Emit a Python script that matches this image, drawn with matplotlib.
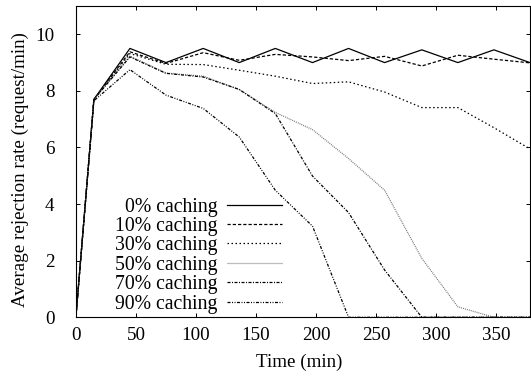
import matplotlib
matplotlib.use("Agg")
import matplotlib.pyplot as plt

plt.rcParams['font.family'] = ['Liberation Serif', 'DejaVu Serif']
plt.rcParams['font.size'] = 13.7

# Data
time_min = [0, 15, 45, 75, 106, 136, 166, 197, 227, 257, 288, 318, 348, 378]
c0 = [0, 7.7, 9.5, 9.0, 9.5, 9.0, 9.5, 9.0, 9.5, 9.0, 9.45, 9.0, 9.45, 9.0]
c10 = [0, 7.7, 9.38, 8.97, 9.35, 9.08, 9.29, 9.2, 9.07, 9.22, 8.88, 9.26, 9.12, 8.99]
c30 = [0, 7.7, 9.32, 8.94, 8.93, 8.73, 8.52, 8.26, 8.32, 7.96, 7.41, 7.41, 6.7, 5.95]
c50 = [0, 7.7, 9.23, 8.63, 8.52, 8.05, 7.24, 6.63, 5.61, 4.49, 2.08, 0.37, 0, 0]
c70 = [0, 7.7, 9.2, 8.62, 8.49, 8.05, 7.2, 4.99, 3.7, 1.67, 0, 0, 0, 0]
c90 = [0, 7.65, 8.75, 7.85, 7.38, 6.37, 4.49, 3.22, 0, 0, 0, 0, 0, 0]
labels = ['0% caching', '10% caching', '30% caching', '50% caching', '70% caching', '90% caching']
x_ticks = [0, 50, 100, 150, 200, 250, 300, 350]
y_ticks = [0, 2, 4, 6, 8, 10]

fig = plt.figure(figsize=(5.31, 3.81), dpi=100)
ax = fig.add_axes([0.1429, 0.1672, 0.998 - 0.1429, 0.9843 - 0.1672])

lw = 0.9
ax.plot(time_min, c0, color='black', lw=lw, label=labels[0])
ax.plot(time_min, c10, color='black', lw=lw, dashes=(2.6, 1.6), label=labels[1])
ax.plot(time_min, c30, color='black', lw=lw, dashes=(1.2, 2.0), label=labels[2])
ax.plot(time_min, c50, color='#7a7a7a', lw=lw, dashes=(0.8, 0.8), label=labels[3])
ax.plot(time_min, c70, color='black', lw=lw, dashes=(2.4, 1.2, 0.8, 1.2), label=labels[4])
ax.plot(time_min, c90, color='black', lw=lw, dashes=(2.4, 1.2, 0.8, 1.2, 0.8, 1.2), label=labels[5])

ax.set_xlim(0, 378)
ax.set_ylim(0, 11)
ax.set_xticks(x_ticks)
ax.set_yticks(y_ticks)
ax.tick_params(direction='in', top=True, right=True, length=2.9, width=0.7)
ax.tick_params(axis='x', pad=6.8)
ax.tick_params(axis='y', pad=15.5)
for s in ax.spines.values():
    s.set_linewidth(0.8)

ax.set_xlabel('Time (min)')
ax.xaxis.set_label_coords(0.492, -0.116)
ax.set_ylabel('Average rejection rate (request/min)')
ax.yaxis.set_label_coords(-0.104, 0.473)

leg = ax.legend(loc='lower right', bbox_to_anchor=(0.453, 0.012), frameon=False,
                markerfirst=False, borderpad=0, borderaxespad=0,
                handlelength=2.75, handletextpad=0.5, labelspacing=0.02,
                prop={'size': 14.2})

fig.savefig('out.png', dpi=100)
